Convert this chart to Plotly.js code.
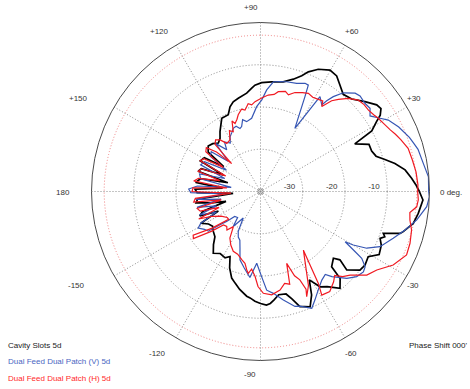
<!DOCTYPE html>
<html>
<head>
<meta charset="utf-8">
<script src="https://cdn.plot.ly/plotly-3.0.1.min.js"></script>
<style>html,body{margin:0;padding:0;background:#fff;}#chart{width:470px;height:389px;}</style>
</head>
<body>
<div id="chart"></div>
<script>
// Angular tick marks and labels
const angleTicks = [0, 30, 60, 90, 120, 150, 180, 210, 240, 270, 300, 330];
const angleLabels = ['0 deg.', '+30', '+60', '+90', '+120', '+150', '180', '-150', '-120', '-90', '-60', '-30'];
// Radial (dB) ticks
const radialTicks = [-30, -20, -10];
const radialLabels = ['-30', '-20', '-10'];
const halfPowerRing = [-3];
const radialRange = [-40, 0];

// Series names
const seriesNames = ['Cavity Slots 5d', 'Dual Feed Dual Patch (V) 5d', 'Dual Feed Dual Patch (H) 5d'];

// Cavity Slots 5d (black)
const cavityTheta = [0,2.5,5,8.5,11.8,14.4,17,20,23.5,26.8,
 28.6,31,32.5,34.5,36.7,40.7,45.4,49.6,53.3,56.6,
 60.2,64.7,68.2,70.4,73.7,78.3,84.2,89.4,93,95,
 98,103.4,106.9,109.8,112.8,117.9,124.1,127.3,131,135,
 139,143,146,149,153,156,159,162,165,168,
 172,175,178,181,184,187,190,193,196,199,
 202,205,208,212,216,220,224.8,228.5,232.6,237,
 241.9,244.9,248,251.6,254.5,258,262.5,264.4,267.1,270,
 273,275,277,280,284,286.3,288.9,291,293.3,296.3,
 298.9,302,305,309.4,312.5,313.4,317.5,319.3,317.7,321.7,
 324.9,328.8,332,336,338.6,340,341.2,343.3,344.3,346.7,
 348.2,352.1,357,360];
const cavityDb = [-2.4,-3.2,-4.1,-5.4,-7.5,-9.6,-11.4,-12.0,-12.0,-15.0,
 -10.0,-8.0,-6.4,-5.4,-5.7,-7.4,-9.25,-9.8,-8.55,-7.25,
 -6.9,-8.0,-9.5,-10.9,-12.3,-13.5,-13.9,-14.25,-14.8,-15.5,
 -16.5,-17.3,-17.8,-18.7,-20.3,-20.4,-22.9,-24.2,-24.8,-24.0,
 -23.6,-24.5,-29.5,-24.5,-24.0,-30.5,-25.0,-24.5,-32.0,-25.5,
 -24.5,-31.0,-24.5,-25.0,-33.5,-25.0,-24.5,-28.0,-31.5,-25.5,
 -24.5,-29.0,-24.0,-25.5,-26.0,-25.4,-24.8,-23.2,-21.6,-22.5,
 -22.2,-23.0,-20.5,-18.4,-17.5,-16.3,-15.0,-14.7,-14.0,-13.5,
 -13.1,-13.4,-14.1,-15.2,-15.0,-13.5,-11.2,-10.8,-10.3,-12.7,
 -16.1,-13.4,-12.5,-10.35,-12.1,-15.5,-16.6,-15.2,-12.4,-10.0,
 -9.75,-10.2,-8.2,-8.7,-9.6,-8.7,-9.3,-5.5,-4.9,-3.8,
 -3.05,-2.3,-1.5,-2.4];

// Dual Feed Dual Patch (V) 5d (blue)
const vPatchTheta = [0,5,9.8,15,17.5,20,25,29.2,31.5,34.6,
 37.2,40.2,43.8,46.1,50,52.5,53.9,54.7,57.9,61.4,
 64.9,65.8,67.6,71.5,76.6,80,83.3,86.5,89.2,92.6,
 96.9,101.2,104,106.2,108,110.5,113.3,116,119.1,122,
 126,129,133,137,141,145,148,152,156,160,
 164,168,172,175,178,181,184,187,191,194,
 198,201,205,208,210.4,214,217.3,219.3,221.4,224,
 228.6,232,237,240.8,244,247,250,253.3,258,263,
 267,270.8,273.6,277.2,281.9,286.7,289,293.7,296.7,300.4,
 304.7,308,310,314.8,318.5,322,324.3,326.6,327.8,329.3,
 330,331.9,335.2,340.6,345.1,349.7,354.8,358.2,360];
const vPatchDb = [-0.2,-0.1,-0.9,-1.4,-2.0,-2.5,-3.9,-5.35,-6.8,-8.5,
 -7.45,-7.65,-7.35,-7.7,-9.5,-11.7,-13.4,-14.9,-13.5,-23.0,
 -15.2,-12.4,-12.3,-13.0,-13.3,-13.6,-13.85,-15.9,-18.3,-19.9,
 -22.55,-23.15,-22.5,-24.0,-24.3,-23.5,-23.7,-24.5,-25.2,-26.5,
 -25.5,-27.3,-24.5,-29.5,-25.0,-25.5,-30.5,-25.0,-24.5,-31.0,
 -25.0,-25.5,-33.0,-25.0,-23.0,-23.5,-31.5,-24.5,-30.5,-24.5,
 -29.0,-24.5,-28.5,-24.0,-22.9,-24.0,-24.5,-27.6,-29.3,-31.5,
 -31.8,-29.5,-32.5,-29.2,-28.0,-27.5,-25.8,-23.1,-21.5,-19.5,
 -23.0,-19.8,-16.6,-15.7,-13.75,-11.6,-11.3,-9.8,-11.3,-13.0,
 -14.5,-15.1,-13.7,-11.0,-9.6,-9.1,-9.5,-11.3,-14.0,-16.7,
 -14.65,-11.5,-8.85,-6.7,-4.6,-2.4,-0.5,0,-0.2];

// Dual Feed Dual Patch (H) 5d (red)
const hPatchTheta = [0,2.4,7.2,11.8,16.3,20.3,23,25.4,29.4,32,
 34,37,40,43,46.7,49.8,51.9,54.2,55.5,57.9,
 61,64,67,70.8,73.9,76,79.9,82,85.4,89,
 93.5,95.8,98,100.8,103,106.2,108,110.5,112,114.5,
 117,120.6,125,128,131,134,136,138,141,144,
 147,150,153,156,159,162,165,168,171,174,
 177,180,183,186,189,192,195,198,201,204,
 207,212,218,221,217,213,215,219,222,226,
 229,232.3,236.7,241,245.5,250,254.6,257.8,260,261.5,
 263.5,266.3,268.5,271.6,276.2,281.2,284.7,287.5,290,292,
 294,295,293.7,297,306.2,302.2,300.6,304.7,309,311.5,
 314,317,321.8,326,331,336.5,340.9,345.7,349.2,352,
 354.4,357,360];
const hPatchDb = [-2.8,-2.7,-2.9,-3.3,-3.6,-4.6,-5.3,-6.0,-6.8,-7.2,
 -7.6,-8.0,-8.0,-8.3,-9.7,-11.45,-12.7,-15.2,-14.0,-14.25,
 -14.5,-14.15,-14.6,-15.2,-16.2,-15.6,-16.0,-16.8,-17.1,-17.8,
 -18.7,-19.4,-19.0,-20.4,-20.0,-21.1,-22.0,-22.8,-22.0,-24.45,
 -23.8,-25.8,-26.1,-24.5,-23.8,-24.5,-30.5,-26.0,-23.5,-24.0,
 -29.5,-24.5,-24.0,-31.0,-25.0,-24.5,-30.0,-25.0,-24.0,-32.0,
 -24.0,-23.8,-33.0,-24.5,-24.0,-30.5,-24.5,-25.0,-29.5,-24.0,
 -27.0,-29.0,-30.0,-30.0,-25.5,-21.0,-20.6,-25.0,-28.2,-28.5,
 -27.9,-29.5,-26.8,-25.5,-24.45,-24.2,-23.3,-22.6,-21.2,-20.4,
 -21.5,-19.9,-17.5,-15.9,-15.4,-16.2,-17.5,-17.0,-21.9,-18.5,
 -17.1,-14.5,-12.8,-15.0,-22.8,-14.3,-11.5,-11.2,-12.5,-13.5,
 -12.0,-11.0,-8.0,-6.8,-4.1,-2.3,-2.55,-3.1,-4.0,-4.3,
 -2.85,-2.6,-2.8];

const colors = ['#000000', '#3656b4', '#f01a22'];
const labelColors = ['#222222', '#4a67c2', '#ff2a2a'];

// Layout: where the angular labels sit on the page (pixels from top-left), one per angleLabels entry
const angleLabelPos = [[438, 192, 'left'], [414, 99, 'center'], [352, 31, 'center'], [251, 7.5, 'center'],
  [159.5, 31, 'center'], [78, 99, 'center'], [63, 192, 'center'], [76.5, 285, 'center'],
  [157.5, 353, 'center'], [250, 374.5, 'center'], [350.5, 353, 'center'], [413, 285, 'center']];

const W = 470, H = 389;
const domain = {x: [91.5 / W, 429.5 / W], y: [28.5 / H, 366.5 / H]};
const fontFam = 'Liberation Sans, Arial, sans-serif';
const fs = 8;
const nb = n => '\u00a0'.repeat(n);
const radialText = radialLabels.map(t => t + nb(12));

const traces = [
  {type: 'scatterpolar', subplot: 'polar', r: [], theta: [], mode: 'lines', hoverinfo: 'skip', showlegend: false},
  {type: 'scatterpolar', subplot: 'polar2', mode: 'lines', name: seriesNames[0], r: cavityDb, theta: cavityTheta, line: {color: colors[0], width: 1.7}},
  {type: 'scatterpolar', subplot: 'polar2', mode: 'lines', name: seriesNames[1], r: vPatchDb, theta: vPatchTheta, line: {color: colors[1], width: 1.2}},
  {type: 'scatterpolar', subplot: 'polar2', mode: 'lines', name: seriesNames[2], r: hPatchDb, theta: hPatchTheta, line: {color: colors[2], width: 1.2}}
];

const ann = [];
angleLabels.forEach((t, i) => {
  const p = angleLabelPos[i];
  ann.push({xref: 'paper', yref: 'paper', x: p[0] / W, y: 1 - p[1] / H, xanchor: p[2], yanchor: 'middle',
    showarrow: false, text: t, font: {family: fontFam, size: fs, color: '#333'}});
});
const legendY = [345, 361.5, 378];
seriesNames.forEach((t, i) => {
  ann.push({xref: 'paper', yref: 'paper', x: 6 / W, y: 1 - legendY[i] / H, xanchor: 'left', yanchor: 'middle',
    showarrow: false, text: t, font: {family: fontFam, size: fs, color: labelColors[i]}});
});
ann.push({xref: 'paper', yref: 'paper', x: 469 / W, y: 1 - 345 / H, xanchor: 'right', yanchor: 'middle',
  showarrow: false, text: "Phase Shift 000'", font: {family: fontFam, size: fs, color: '#222'}});

const layout = {
  width: W, height: H,
  margin: {l: 0, r: 0, t: 0, b: 0},
  paper_bgcolor: '#ffffff',
  showlegend: false,
  font: {family: fontFam, size: fs, color: '#222'},
  polar: {
    domain: domain,
    bgcolor: '#ffffff',
    radialaxis: {range: radialRange, tickvals: halfPowerRing, showticklabels: false, showline: false, ticks: '',
                 gridcolor: '#f08080', griddash: '1px,2px', gridwidth: 1},
    angularaxis: {showgrid: false, showline: false, showticklabels: false, ticks: ''}
  },
  polar2: {
    domain: domain,
    bgcolor: 'rgba(0,0,0,0)',
    radialaxis: {range: radialRange, tickvals: radialTicks, ticktext: radialText, angle: 0, tickangle: 0,
                 side: 'counterclockwise', showline: false, ticks: '', gridcolor: '#8a8a8a', griddash: '1px,2px',
                 gridwidth: 1, tickfont: {family: fontFam, size: fs, color: '#333'}},
    angularaxis: {rotation: 0, direction: 'counterclockwise', tickvals: angleTicks,
                  showline: true, linecolor: '#4a4a4a', linewidth: 1, gridcolor: '#8a8a8a', griddash: '1px,2px',
                  gridwidth: 1, ticks: '', showticklabels: false}
  },
  shapes: [
    {type: 'circle', xref: 'paper', yref: 'paper', x0: 258 / W, x1: 263 / W, y0: 1 - 194 / H, y1: 1 - 189 / H,
     line: {color: '#888', width: 1}}
  ],
  annotations: ann
};

Plotly.newPlot('chart', traces, layout, {staticPlot: true, displayModeBar: false});
</script>
</body>
</html>
